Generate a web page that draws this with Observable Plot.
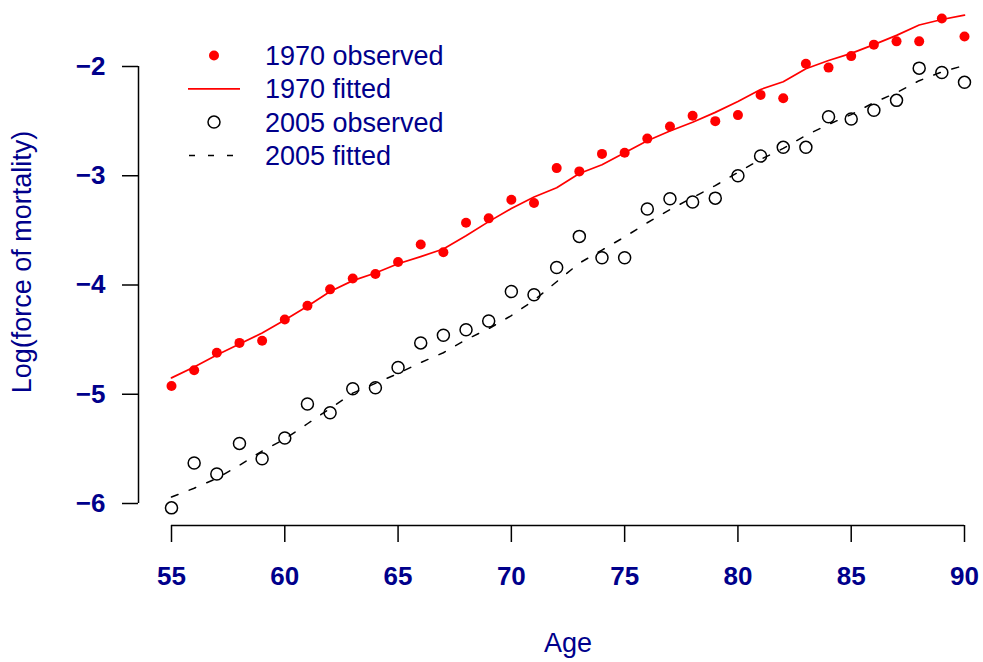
<!DOCTYPE html>
<html>
<head>
<meta charset="utf-8">
<script src="https://cdn.jsdelivr.net/npm/d3@7"></script>
<script src="https://cdn.jsdelivr.net/npm/@observablehq/plot@0.6"></script>
<style>
  html, body { margin: 0; padding: 0; background: #fff; }
  #chart { width: 983px; height: 662px; }
</style>
</head>
<body>
<div id="chart"></div>
<script>
const ages = [55, 56, 57, 58, 59, 60, 61, 62, 63, 64, 65, 66, 67, 68, 69, 70, 71, 72,
              73, 74, 75, 76, 77, 78, 79, 80, 81, 82, 83, 84, 85, 86, 87, 88, 89, 90];

const observed1970 = [-4.925, -4.78, -4.62, -4.53, -4.51, -4.315, -4.19, -4.04, -3.94, -3.90,
  -3.79, -3.63, -3.70, -3.43, -3.39, -3.22, -3.25, -2.93, -2.96, -2.80, -2.79, -2.66, -2.55,
  -2.45, -2.50, -2.445, -2.26, -2.29, -1.975, -2.01, -1.905, -1.80, -1.77, -1.77, -1.56, -1.725];

const fitted1970 = [-4.85, -4.75, -4.64, -4.54, -4.44, -4.32, -4.195, -4.06, -3.96, -3.89,
  -3.805, -3.74, -3.67, -3.55, -3.42, -3.30, -3.195, -3.11, -2.98, -2.90, -2.79, -2.68, -2.59,
  -2.51, -2.42, -2.32, -2.21, -2.14, -2.02, -1.945, -1.88, -1.80, -1.715, -1.62, -1.57, -1.53];

const observed2005 = [-6.04, -5.63, -5.73, -5.45, -5.59, -5.40, -5.09, -5.17, -4.95, -4.94,
  -4.755, -4.53, -4.46, -4.41, -4.33, -4.06, -4.09, -3.84, -3.555, -3.75, -3.75, -3.305, -3.21,
  -3.24, -3.205, -3.00, -2.82, -2.74, -2.74, -2.46, -2.48, -2.40, -2.31, -2.015, -2.055, -2.145];

const fitted2005 = [-5.94, -5.86, -5.77, -5.65, -5.52, -5.41, -5.27, -5.13, -4.99, -4.90,
  -4.81, -4.71, -4.62, -4.50, -4.40, -4.28, -4.14, -3.97, -3.80, -3.68, -3.56, -3.43, -3.31,
  -3.20, -3.09, -2.97, -2.85, -2.75, -2.63, -2.53, -2.44, -2.33, -2.24, -2.13, -2.05, -1.99];

const xTicks = [55, 60, 65, 70, 75, 80, 85, 90];
const yTicks = [-6, -5, -4, -3, -2];
const xLabel = "Age";
const yLabel = "Log(force of mortality)";
const legendLabels = ["1970 observed", "1970 fitted", "2005 observed", "2005 fitted"];

const NAVY = "#00008B";
const FONT = "'Liberation Sans', Arial, Helvetica, sans-serif";

const rows = (vals) => ages.map((a, i) => ({age: a, value: vals[i]}));
const obs70 = rows(observed1970), fit70 = rows(fitted1970);
const obs05 = rows(observed2005), fit05 = rows(fitted2005);

const xMin = d3.min(xTicks), xMax = d3.max(xTicks);
const yMin = d3.min(yTicks), yMax = d3.max(yTicks);
const intFmt = d3.format("d");

const chart = Plot.plot({
  width: 983,
  height: 662,
  marginLeft: 171,
  marginRight: 19,
  marginTop: 66,
  marginBottom: 159,
  x: {domain: [xMin, xMax]},
  y: {domain: [yMin, yMax]},
  style: {fontFamily: FONT, background: "white", overflow: "visible"},
  marks: [
    // axes (R style, offset from the data region)
    Plot.ruleX([xMin], {y1: yMin, y2: yMax, dx: -33, stroke: "black", strokeWidth: 1.5}),
    Plot.axisY(yTicks, {
      anchor: "left", dx: -33, tickSize: 16, tickPadding: 17, tickFormat: intFmt,
      stroke: "black", strokeWidth: 1.5,
      fill: NAVY, fontSize: 26, fontWeight: "bold", label: null
    }),
    Plot.ruleY([yMin], {x1: xMin, x2: xMax, dy: 22, stroke: "black", strokeWidth: 1.5}),
    Plot.axisX(xTicks, {
      anchor: "bottom", dy: 22, tickSize: 17, tickPadding: 24, tickFormat: intFmt,
      stroke: "black", strokeWidth: 1.5,
      fill: NAVY, fontSize: 26, fontWeight: "bold", label: null
    }),
    Plot.text([xLabel], {frameAnchor: "bottom", dy: 140, lineAnchor: "middle",
      textAnchor: "middle", fill: NAVY, fontSize: 27}),
    Plot.text([yLabel], {frameAnchor: "left", rotate: -90, dx: -149, dy: -23,
      textAnchor: "middle", lineAnchor: "middle", fill: NAVY, fontSize: 27}),
    // data
    Plot.line(fit70, {x: "age", y: "value", stroke: "#FF0000", strokeWidth: 1.7}),
    Plot.line(fit05, {x: "age", y: "value", stroke: "black", strokeWidth: 1.5,
      strokeDasharray: "7,12"}),
    Plot.dot(obs70, {x: "age", y: "value", r: 5, fill: "#FF0000", stroke: "none"}),
    Plot.dot(obs05, {x: "age", y: "value", r: 6, fill: "none", stroke: "black",
      strokeWidth: 1.5})
  ]
});

document.getElementById("chart").appendChild(chart);

// Legend (top-left, inside the plotting area)
const svg = d3.select(chart);
const lg = svg.append("g").attr("class", "legend").attr("text-anchor", "start");
const rowY0 = 55.5, rowStep = 33.3, symX = 214, textX = 265;
legendLabels.forEach((lab, i) => {
  const y = rowY0 + i * rowStep;
  if (i === 0) {
    lg.append("circle").attr("cx", symX).attr("cy", y).attr("r", 5).attr("fill", "#FF0000");
  } else if (i === 1) {
    lg.append("line").attr("x1", 188).attr("x2", 240).attr("y1", y).attr("y2", y)
      .attr("stroke", "#FF0000").attr("stroke-width", 1.7);
  } else if (i === 2) {
    lg.append("circle").attr("cx", symX).attr("cy", y).attr("r", 6)
      .attr("fill", "none").attr("stroke", "black").attr("stroke-width", 1.5);
  } else {
    lg.append("line").attr("x1", 189).attr("x2", 234).attr("y1", y).attr("y2", y)
      .attr("stroke", "black").attr("stroke-width", 1.5).attr("stroke-dasharray", "6,13");
  }
  lg.append("text").attr("x", textX).attr("y", y).attr("dy", "0.35em")
    .attr("text-anchor", "start")
    .attr("fill", NAVY).attr("font-size", 27).attr("font-family", FONT).text(lab);
});
</script>
</body>
</html>
